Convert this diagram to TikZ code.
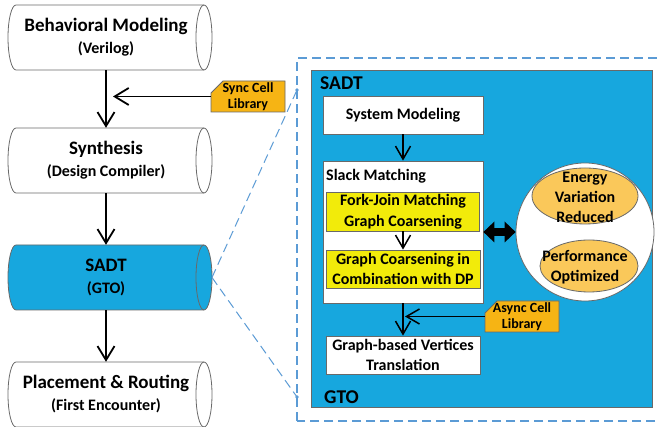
\documentclass[tikz,border=0pt]{standalone}
\usepackage{fontspec}
\setmainfont{Carlito}
\usetikzlibrary{arrows.meta,shapes.geometric}
\definecolor{sadtblue}{RGB}{23,167,222}
\definecolor{tagorange}{RGB}{246,180,20}
\definecolor{boxyellow}{RGB}{242,235,10}
\definecolor{ellorange}{RGB}{250,200,90}
\definecolor{dashcol}{RGB}{91,155,213}
\definecolor{edgegrey}{RGB}{105,105,105}
\newcommand\fsz[2]{\fontsize{#1}{#2}\selectfont\bfseries}
\newcommand\cylshape[2]{%
  \filldraw[cylline, fill=#2] (16,#1+32.5) -- (204,#1+32.5)
    arc[start angle=90,end angle=-90,x radius=8,y radius=32.5]
    -- (16,#1-32.5)
    arc[start angle=270,end angle=90,x radius=8,y radius=32.5] -- cycle;
  \draw[cylline] (204,#1+32.5) arc[start angle=90,end angle=270,x radius=8,y radius=32.5];}
\tikzset{
  cylline/.style={draw=edgegrey, line width=0.8pt},
  cyltext/.style={minimum width=196pt, minimum height=65pt, inner sep=0pt, align=center, font=\fsz{19}{22}},
  flowarrow/.style={line width=1.8pt, -{Straight Barb[length=14pt,width=17pt]}},
  innerarrow/.style={line width=1.5pt, -{Straight Barb[length=13pt,width=15pt]}},
  tagshape/.style={draw=edgegrey, fill=tagorange, line width=0.8pt},
  tagtext/.style={minimum width=74pt, minimum height=31pt, inner sep=0pt, align=center, font=\fsz{14}{16.5}},
  dashline/.style={draw=dashcol, line width=1.2pt, dash pattern=on 9pt off 5pt},
  diagline/.style={draw=dashcol, line width=1pt, dash pattern=on 9pt off 5pt},
  whitebox/.style={draw=edgegrey, fill=white, line width=0.8pt, inner sep=0pt, align=center, font=\fsz{16}{20.5}},
  yellowbox/.style={whitebox, fill=boxyellow},
  plaintext/.style={inner sep=0pt, align=center, font=\fsz{16}{20}},
  biglabel/.style={inner sep=0pt, anchor=west, font=\fsz{19.5}{22}},
  ellnode/.style={ellipse, draw=edgegrey, fill=ellorange, line width=0.8pt, inner sep=0pt},
  dblarrow/.style={line width=8pt, {Triangle[length=11pt,width=21pt,line width=0pt]}-{Triangle[length=11pt,width=21pt,line width=0pt]}}
}
\begin{document}
\begin{tikzpicture}[x=1pt,y=1pt]
\useasboundingbox (0,0) rectangle (658,427);
\clip (0,0) rectangle (658,427);
\fill[white] (0,0) rectangle (658,427);

% left flow
\cylshape{389.5}{white}
\node[cyltext] (beh) at (106,389.5) {Behavioral Modeling\\\fontsize{16}{22}\selectfont (Verilog)};
\cylshape{266.5}{white}
\node[cyltext] (syn) at (106,266.5) {Synthesis\\\fontsize{16}{22}\selectfont (Design Compiler)};
\cylshape{149.5}{sadtblue}
\node[cyltext] (sadt) at (106,149.5) {SADT\\\fontsize{16}{22}\selectfont (GTO)};
\cylshape{32.5}{white}
\node[cyltext] (pr) at (106,32.5) {Placement \& Routing\\\fontsize{16}{22}\selectfont (First Encounter)};

\draw[flowarrow] (beh.south) -- (syn.north);
\draw[flowarrow] (syn.south) -- (sadt.north);
\draw[flowarrow] (sadt.south) -- (pr.north);

% sync cell library
\filldraw[tagshape] (211,334) -- (223,346) -- (285,346) -- (285,315) -- (211,315) -- cycle;
\node[tagtext] (sync) at (248,330.5) {Sync Cell\\Library};
\coordinate (syncend) at (113,330.5);
\draw[flowarrow] (sync.west) -- (syncend);

% zoom frame
\draw[dashline] (297,6) rectangle (666,369);
\coordinate (zt) at (297,337);
\coordinate (zb) at (297,30);
\coordinate (sadtend) at (212,149.5);
\draw[diagline] (sadtend) -- (zt);
\draw[diagline] (sadtend) -- (zb);
\fill[dashcol] (zt) circle (1.8);
\fill[dashcol] (zb) circle (1.8);

% SADT detail
\filldraw[draw=edgegrey, fill=sadtblue, line width=0.8pt] (311,20) rectangle (652,357);
\node[biglabel] (sadtlbl) at (320,344) {SADT};
\node[biglabel] (gtolbl) at (324,30) {GTO};

\node[whitebox, minimum width=160pt, minimum height=38pt] (sysm) at (403,312) {System Modeling};
\node[whitebox, minimum width=160pt, minimum height=142pt] (slack) at (403,195) {};
\node[inner sep=0pt, anchor=west, font=\fsz{16}{20}] (slacklbl) at (326,251) {Slack Matching};
\node[yellowbox, minimum width=153pt, minimum height=39pt] (fork) at (403,215.5) {Fork-Join Matching\\Graph Coarsening};
\node[yellowbox, minimum width=154pt, minimum height=38pt] (gcdp) at (403,158) {Graph Coarsening in\\Combination with DP};
\node[whitebox, minimum width=154pt, minimum height=38pt] (gbvt) at (403,72) {Graph-based Vertices\\Translation};

\draw[innerarrow] (sysm.south) -- (slack.north);
\draw[innerarrow] (fork.south) -- (gcdp.north);
\draw[innerarrow] (slack.south) -- (gbvt.north);

% async cell library
\filldraw[tagshape] (485,114) -- (497,126) -- (559,126) -- (559,95) -- (485,95) -- cycle;
\node[tagtext] (async) at (522,110.5) {Async Cell\\Library};
\coordinate (asyncend) at (405,110.5);
\draw[innerarrow] (async.west) -- (asyncend);

% goals circle
\node[circle, draw=edgegrey, fill=white, line width=0.8pt, minimum size=138pt, inner sep=0pt] (circ) at (585,195) {};
\node[ellnode, minimum width=106pt, minimum height=56pt] (energy) at (585,231) {};
\node[plaintext] (energytxt) at (585,230) {Energy\\Variation\\Reduced};
\node[ellnode, minimum width=98pt, minimum height=52pt] (perf) at (589,161) {};
\node[plaintext] (perftxt) at (585,160) {Performance\\Optimized};

\draw[dblarrow] (slack.east) -- (circ.west);
\end{tikzpicture}
\end{document}
